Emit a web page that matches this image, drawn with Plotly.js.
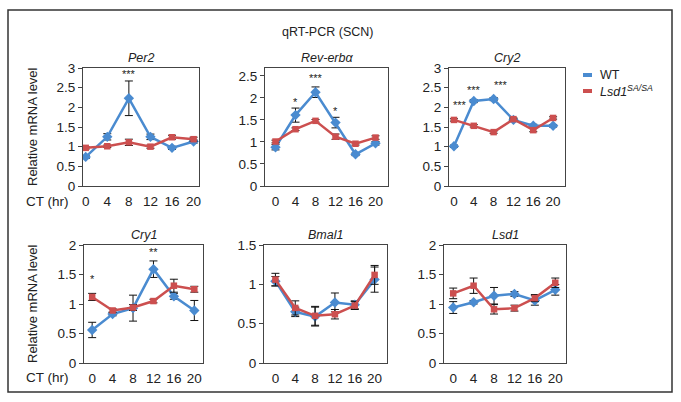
<!DOCTYPE html>
<html><head><meta charset="utf-8">
<script src="https://cdn.plot.ly/plotly-3.0.1.min.js"></script>
<style>html,body{margin:0;padding:0;background:#fff}</style>
</head><body><div id="chart" style="width:681px;height:402px"></div>
<script>
const ct = [0, 4, 8, 12, 16, 20];
const ctLabels = ['0', '4', '8', '12', '16', '20'];
const genes = ['Per2', 'Rev-erbα', 'Cry2', 'Cry1', 'Bmal1', 'Lsd1'];
const seriesNames = ['WT', 'Lsd1SA/SA'];

const per2WT = [0.74, 1.25, 2.23, 1.25, 0.97, 1.13];
const per2WTerr = [0.04, 0.08, 0.44, 0.07, 0.04, 0.04];
const per2SA = [0.97, 1.01, 1.11, 1.00, 1.24, 1.19];
const per2SAerr = [0.03, 0.03, 0.08, 0.04, 0.05, 0.05];

const revWT = [0.88, 1.61, 2.13, 1.44, 0.72, 0.97];
const revWTerr = [0.06, 0.16, 0.12, 0.12, 0.03, 0.04];
const revSA = [1.01, 1.29, 1.48, 1.12, 0.96, 1.10];
const revSAerr = [0.03, 0.03, 0.03, 0.06, 0.03, 0.04];

const cry2WT = [1.01, 2.16, 2.21, 1.68, 1.53, 1.53];
const cry2WTerr = [0.03, 0.04, 0.04, 0.03, 0.04, 0.03];
const cry2SA = [1.68, 1.53, 1.37, 1.70, 1.42, 1.73];
const cry2SAerr = [0.03, 0.03, 0.03, 0.03, 0.04, 0.03];

const cry1WT = [0.56, 0.83, 0.93, 1.59, 1.13, 0.89];
const cry1WTerr = [0.13, 0.03, 0.22, 0.14, 0.05, 0.17];
const cry1SA = [1.12, 0.89, 0.94, 1.05, 1.31, 1.25];
const cry1SAerr = [0.06, 0.03, 0.05, 0.03, 0.11, 0.05];

const bmal1WT = [1.04, 0.65, 0.59, 0.77, 0.74, 1.06];
const bmal1WTerr = [0.06, 0.06, 0.12, 0.12, 0.05, 0.16];
const bmal1SA = [1.06, 0.70, 0.60, 0.62, 0.73, 1.12];
const bmal1SAerr = [0.08, 0.09, 0.12, 0.06, 0.05, 0.12];

const lsd1WT = [0.94, 1.03, 1.14, 1.17, 1.06, 1.24];
const lsd1WTerr = [0.10, 0.03, 0.14, 0.04, 0.08, 0.09];
const lsd1SA = [1.18, 1.31, 0.91, 0.93, 1.10, 1.36];
const lsd1SAerr = [0.09, 0.13, 0.08, 0.05, 0.06, 0.08];

// significance marks: [panel index, CT, level, label]
const stars = [
  [0, 8, 2.85, '***'],
  [1, 4, 1.90, '*'], [1, 8, 2.45, '***'], [1, 12, 1.70, '*'],
  [2, 1.3, 2.06, '***'], [2, 4, 2.43, '***'], [2, 9.5, 2.57, '***'],
  [3, 0, 1.42, '*'], [3, 12, 1.88, '**']
];

const wtData = [per2WT, revWT, cry2WT, cry1WT, bmal1WT, lsd1WT];
const wtErr = [per2WTerr, revWTerr, cry2WTerr, cry1WTerr, bmal1WTerr, lsd1WTerr];
const saData = [per2SA, revSA, cry2SA, cry1SA, bmal1SA, lsd1SA];
const saErr = [per2SAerr, revSAerr, cry2SAerr, cry1SAerr, bmal1SAerr, lsd1SAerr];

// layout (pixels)
const W = 681, H = 402;
const boxes = [
  [83, 199, 68, 186], [265, 388, 68, 186], [449, 565, 68, 186],
  [84, 203, 245, 363], [264, 387, 245, 363], [444, 566, 245, 363]
];
const xr = [[-0.5, 21], [-2.1, 22.5], [-1, 22.4], [-1.6, 21.7], [-2.3, 22.5], [-1.8, 22.1]];
const yr = [[0, 3], [0, 2.68], [0, 3], [0, 2], [0, 1.5], [0, 2]];

const blue = '#4a8bd0', red = '#cc4f4f';
const FONT = 'Liberation Sans, Arial, sans-serif';
const px = x => x / W, py = y => 1 - y / H;

const traces = [];
const layout = {
  width: W, height: H, margin: {l: 0, r: 0, t: 0, b: 0},
  paper_bgcolor: '#fff', plot_bgcolor: '#fff', showlegend: false,
  font: {family: FONT, size: 13, color: '#222'},
  annotations: [], shapes: []
};

function note(x, y, text, size, extra) {
  layout.annotations.push(Object.assign({xref: 'paper', yref: 'paper', x: px(x), y: py(y),
    xanchor: 'center', yanchor: 'middle', showarrow: false, text: text,
    font: {size: size, color: '#222'}}, extra || {}));
}

for (let i = 0; i < 6; i++) {
  const n = i === 0 ? '' : String(i + 1);
  const b = boxes[i];
  layout['xaxis' + n] = {
    domain: [px(b[0]), px(b[1])], range: xr[i], anchor: 'y' + n,
    tickvals: ct, ticktext: ctLabels, ticks: '', showgrid: false, zeroline: false,
    showline: true, mirror: true, linecolor: '#444', linewidth: 1,
    ticklabelstandoff: 3, tickfont: {size: 13.5, color: '#222'}
  };
  layout['yaxis' + n] = {
    domain: [py(b[3]), py(b[2])], range: yr[i], anchor: 'x' + n, dtick: 0.5,
    ticks: 'outside', ticklen: 4, tickcolor: '#444', showgrid: false, zeroline: false,
    showline: true, mirror: true, linecolor: '#444', linewidth: 1,
    tickfont: {size: 13.5, color: '#222'}
  };
  traces.push({
    x: ct, y: wtData[i], xaxis: 'x' + n, yaxis: 'y' + n, name: seriesNames[0],
    type: 'scatter', mode: 'lines+markers',
    line: {color: blue, width: 2.5}, marker: {symbol: 'diamond', size: 8, color: blue},
    error_y: {type: 'data', array: wtErr[i], color: '#111', thickness: 1, width: 4}
  });
  traces.push({
    x: ct, y: saData[i], xaxis: 'x' + n, yaxis: 'y' + n, name: seriesNames[1],
    type: 'scatter', mode: 'lines+markers',
    line: {color: red, width: 2.5}, marker: {symbol: 'square', size: 6.5, color: red},
    error_y: {type: 'data', array: saErr[i], color: '#111', thickness: 1, width: 4}
  });
  note((b[0] + b[1]) / 2, b[2] - 10, '<i>' + genes[i] + '</i>', 12.5);
}

stars.forEach(s => {
  const n = s[0] === 0 ? '' : String(s[0] + 1);
  layout.annotations.push({
    xref: 'x' + n, yref: 'y' + n, x: s[1], y: s[2], showarrow: false,
    text: s[3], font: {size: 11, color: '#222'}, xanchor: 'center', yanchor: 'middle'
  });
});

// figure title, axis labels
note(327, 32, 'qRT-PCR (SCN)', 12.5);
[127, 304].forEach(yc => note(32, yc, 'Relative mRNA level', 13, {textangle: -90}));
[201, 377].forEach(yc => note(47, yc, 'CT (hr)', 13.5));

// legend
[[75, blue, 'WT'], [91, red, '<i>Lsd1</i><sup><i>SA/SA</i></sup>']].forEach(l => {
  layout.shapes.push({type: 'line', xref: 'paper', yref: 'paper', x0: px(583), x1: px(592),
    y0: py(l[0]), y1: py(l[0]), line: {color: l[1], width: 4}});
  note(598, l[0], l[2], 12.5, {xanchor: 'left'});
});

// outer frame
layout.shapes.push({type: 'rect', xref: 'paper', yref: 'paper', x0: px(8), x1: px(672),
  y0: py(392), y1: py(10), line: {color: '#333', width: 1.5}});

Plotly.newPlot('chart', traces, layout, {displayModeBar: false, staticPlot: true});
</script></body></html>
